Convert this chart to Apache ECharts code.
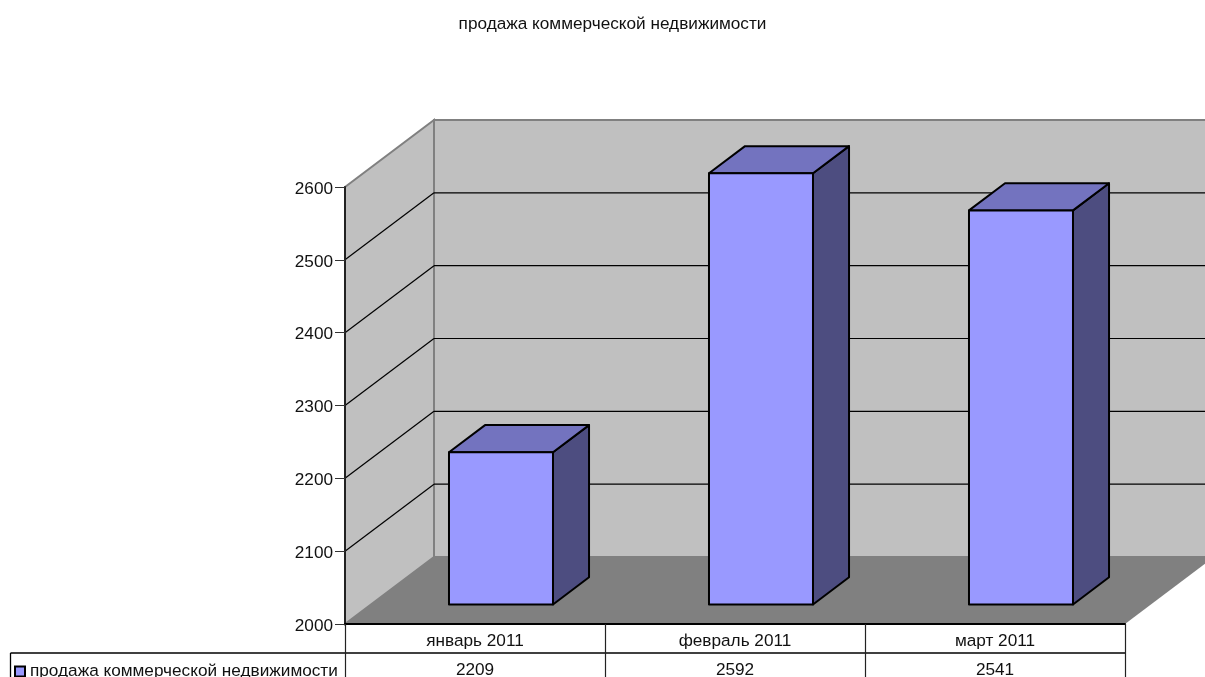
<!DOCTYPE html>
<html><head><meta charset="utf-8">
<style>html,body{margin:0;padding:0;background:#fff;overflow:hidden}#c{width:1205px;height:677px}</style>
<script src="https://cdn.jsdelivr.net/npm/echarts@6/dist/echarts.min.js"></script>
</head><body><div id="c"></div>
<script>
const titleText = 'продажа коммерческой недвижимости';
const seriesName = 'продажа коммерческой недвижимости';
const categories = ['январь 2011', 'февраль 2011', 'март 2011'];
const values = [2209, 2592, 2541];
const yMin = 2000, yMax = 2600, yStep = 100;
const yTicks = [2000, 2100, 2200, 2300, 2400, 2500, 2600];

const FONT = '"Liberation Sans", Arial, sans-serif';
const FS = 17.2;
const DX = 89, DY = -67;          // wall depth offset on screen
const BAR_D0 = 0.292, BAR_D1 = 0.697; // bar depth range along the floor
const BAR_W = 0.4;                // bar width relative to a category
const ROW1 = 29;                  // height of the category row of the table
const black = '#000';

function wallsItem(params, api) {
  const band = api.size([1, 0])[0];
  const p0 = api.coord([0, yMin]), p1 = api.coord([0, yMax]);
  const L = p0[0] - band / 2, R = L + band * categories.length;
  const B = p0[1], T = p1[1];
  const kids = [];
  const poly = (pts, fill, stroke, w) => kids.push({
    type: 'polygon', shape: { points: pts },
    style: { fill: fill, stroke: stroke || null, lineWidth: w || 0 }
  });
  const line = (x1, y1, x2, y2, c, w) => kids.push({
    type: 'line', shape: { x1, y1, x2, y2 }, style: { stroke: c, lineWidth: w || 1 }
  });
  poly([[L + DX, T + DY], [R + DX, T + DY], [R + DX, B + DY], [L + DX, B + DY]], '#C0C0C0', '#808080', 2);
  poly([[L, T], [L + DX, T + DY], [L + DX, B + DY], [L, B]], '#C0C0C0', '#808080', 2);
  poly([[L, B], [L + DX, B + DY], [R + DX, B + DY], [R, B]], '#808080');
  yTicks.forEach(t => {
    if (t === yMin || t === yMax) return;
    const y = api.coord([0, t])[1];
    line(L, y, L + DX, y + DY, black, 1.2);
    line(L + DX, y + DY, R + DX, y + DY, black, 1.2);
  });
  return { type: 'group', children: kids };
}

function tableItem(params, api) {
  const band = api.size([1, 0])[0];
  const p0 = api.coord([0, yMin]);
  const L = p0[0] - band / 2, R = L + band * categories.length, B = p0[1];
  const kids = [
    { type: 'line', shape: { x1: 10.5, y1: B + ROW1, x2: R, y2: B + ROW1 }, style: { stroke: black, lineWidth: 1.3 } },
    { type: 'line', shape: { x1: 10.5, y1: B + ROW1, x2: 10.5, y2: B + ROW1 + 30 }, style: { stroke: black, lineWidth: 1.3 } }
  ];
  values.forEach((v, i) => {
    kids.push({ type: 'text', style: {
      x: api.coord([i, yMin])[0], y: B + ROW1 + 17, text: String(v),
      font: FS + 'px ' + FONT, fill: '#111', align: 'center', verticalAlign: 'middle'
    } });
  });
  return { type: 'group', children: kids };
}

function barItem(params, api) {
  const cat = api.value(0), val = api.value(1);
  const band = api.size([1, 0])[0];
  const base = api.coord([cat, yMin]), top = api.coord([cat, val]);
  const w = band * BAR_W;
  const x0 = base[0] - w / 2 + DX * BAR_D0, x1 = x0 + w;
  const yb = base[1] + DY * BAR_D0, yt = top[1] + DY * BAR_D0;
  const ox = DX * (BAR_D1 - BAR_D0), oy = DY * (BAR_D1 - BAR_D0);
  const st = f => ({ fill: f, stroke: black, lineWidth: 2, lineJoin: 'round' });
  return { type: 'group', children: [
    { type: 'polygon', shape: { points: [[x1, yt], [x1 + ox, yt + oy], [x1 + ox, yb + oy], [x1, yb]] }, style: st('#4D4D80') },
    { type: 'polygon', shape: { points: [[x0, yt], [x0 + ox, yt + oy], [x1 + ox, yt + oy], [x1, yt]] }, style: st('#7373BF') },
    { type: 'polygon', shape: { points: [[x0, yt], [x1, yt], [x1, yb], [x0, yb]] }, style: st(api.visual('color')) }
  ] };
}

const chart = echarts.init(document.getElementById('c'), null, { renderer: 'canvas' });
chart.setOption({
  animation: false,
  backgroundColor: '#fff',
  title: {
    text: titleText, left: 607.5, top: 11, textAlign: 'center',
    textStyle: { fontFamily: FONT, fontSize: FS, fontWeight: 'normal', color: '#111' }
  },
  legend: {
    left: 14, top: 663, padding: 0, itemGap: 0, itemWidth: 10, itemHeight: 10,
    data: [{ name: seriesName, icon: 'rect' }],
    textStyle: { fontFamily: FONT, fontSize: FS, color: '#111', padding: [1, 0, 0, 0] },
    itemStyle: { borderColor: black, borderWidth: 2 }
  },
  grid: { left: 345, top: 187, width: 780, height: 437 },
  xAxis: {
    type: 'category', data: categories, z: 6,
    axisLine: { lineStyle: { color: black, width: 2 } },
    axisTick: { show: true, length: 60, lineStyle: { color: '#222', width: 1.2 } },
    axisLabel: { interval: 0, margin: 9, fontFamily: FONT, fontSize: FS, color: '#111' }
  },
  yAxis: {
    type: 'value', min: yMin, max: yMax, interval: yStep, z: 6,
    axisLine: { show: true, lineStyle: { color: '#222', width: 2 } },
    axisTick: { show: true, length: 10, lineStyle: { color: '#333', width: 1 } },
    axisLabel: { margin: 12, verticalAlign: 'top', lineHeight: 4, fontFamily: FONT, fontSize: FS, color: '#111', formatter: v => String(v) },
    splitLine: { show: false }
  },
  series: [
    { type: 'custom', name: 'walls', silent: true, z: 1, data: [[0, yMin]], renderItem: wallsItem, encode: { x: 0, y: 1 } },
    { type: 'custom', name: seriesName, z: 3, itemStyle: { color: '#9999FF' },
      data: values.map((v, i) => [i, v]), renderItem: barItem, encode: { x: 0, y: 1 } },
    { type: 'custom', name: 'table', silent: true, z: 4, data: [[0, yMin]], renderItem: tableItem, encode: { x: 0, y: 1 } }
  ]
});
</script></body></html>
